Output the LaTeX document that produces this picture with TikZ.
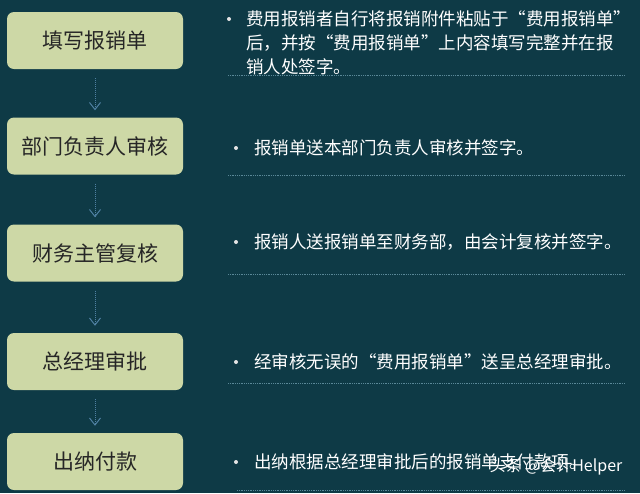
\documentclass[tikz,border=0pt]{standalone}
\usepackage{fontspec}
\setmainfont{Noto Sans CJK SC}
\usetikzlibrary{arrows.meta}
\definecolor{bgteal}{HTML}{0E3A46}
\definecolor{boxgreen}{HTML}{CDD8A6}
\definecolor{arrowblue}{HTML}{4F80A2}
\definecolor{sepblue}{HTML}{5A8898}
\tikzset{
	stepbox/.style = {fill=boxgreen, rounded corners=7pt, minimum width=176pt, minimum height=57pt, inner sep=0pt, text=black!85, font=\fontsize{21}{24}\selectfont},
	desc/.style = {anchor=west, align=left, inner sep=0pt, text=white, font=\fontsize{17.5}{24}\selectfont},
	dot/.style = {circle, fill=white!90!black, inner sep=0pt, minimum size=4pt},
	flow/.style = {draw=arrowblue, densely dotted, line width=1pt, -{Straight Barb[length=7pt, width=11pt, line width=1pt]}},
	sepline/.style = {draw=sepblue, densely dotted, line width=0.8pt}
}
\begin{document}
\begin{tikzpicture}[x=1pt, y=-1pt]
	\useasboundingbox[fill=bgteal] (0,0) rectangle (640,493);
	% steps
	\node [stepbox] (fill) at (95,40.5) {填写报销单};
	\node [stepbox] (dept) at (95,146) {部门负责人审核};
	\node [stepbox] (fin) at (95,253) {财务主管复核};
	\node [stepbox] (gm) at (95,361.5) {总经理审批};
	\node [stepbox] (pay) at (95,461.5) {出纳付款};
	% flow arrows
	\foreach \a/\b in {fill/dept, dept/fin, fin/gm, gm/pay}
		\draw [flow] ([yshift=-9pt]\a.south) -- ([yshift=7pt]\b.north);
	% descriptions
	\node [dot] (b1) at (229,19) {};
	\node [desc] (d1) at (246,43) {费用报销者自行将报销附件粘贴于“费用报销单”\\后，并按“费用报销单”上内容填写完整并在报\\销人处签字。};
	\node [dot] (b2) at (236,148) {};
	\node [desc] (d2) at (254,148) {报销单送本部门负责人审核并签字。};
	\node [dot] (b3) at (236,242) {};
	\node [desc] (d3) at (254,242) {报销人送报销单至财务部，由会计复核并签字。};
	\node [dot] (b4) at (236,362) {};
	\node [desc] (d4) at (254,362) {经审核无误的“费用报销单”送呈总经理审批。};
	\node [dot] (b5) at (236,462) {};
	\node [desc] (d5) at (254,462) {出纳根据总经理审批后的报销单支付款项。};
	% separators
	\foreach \y/\xa in {75/228, 175/228, 274/228, 383/228, 490/237}
		\draw [sepline] (\xa,\y) -- (625,\y);
	% watermark
	\node [inner sep=0pt, text=white, font=\fontsize{16}{16}\selectfont] (mark) at (556,467) {头条 @会计Helper};
\end{tikzpicture}
\end{document}
